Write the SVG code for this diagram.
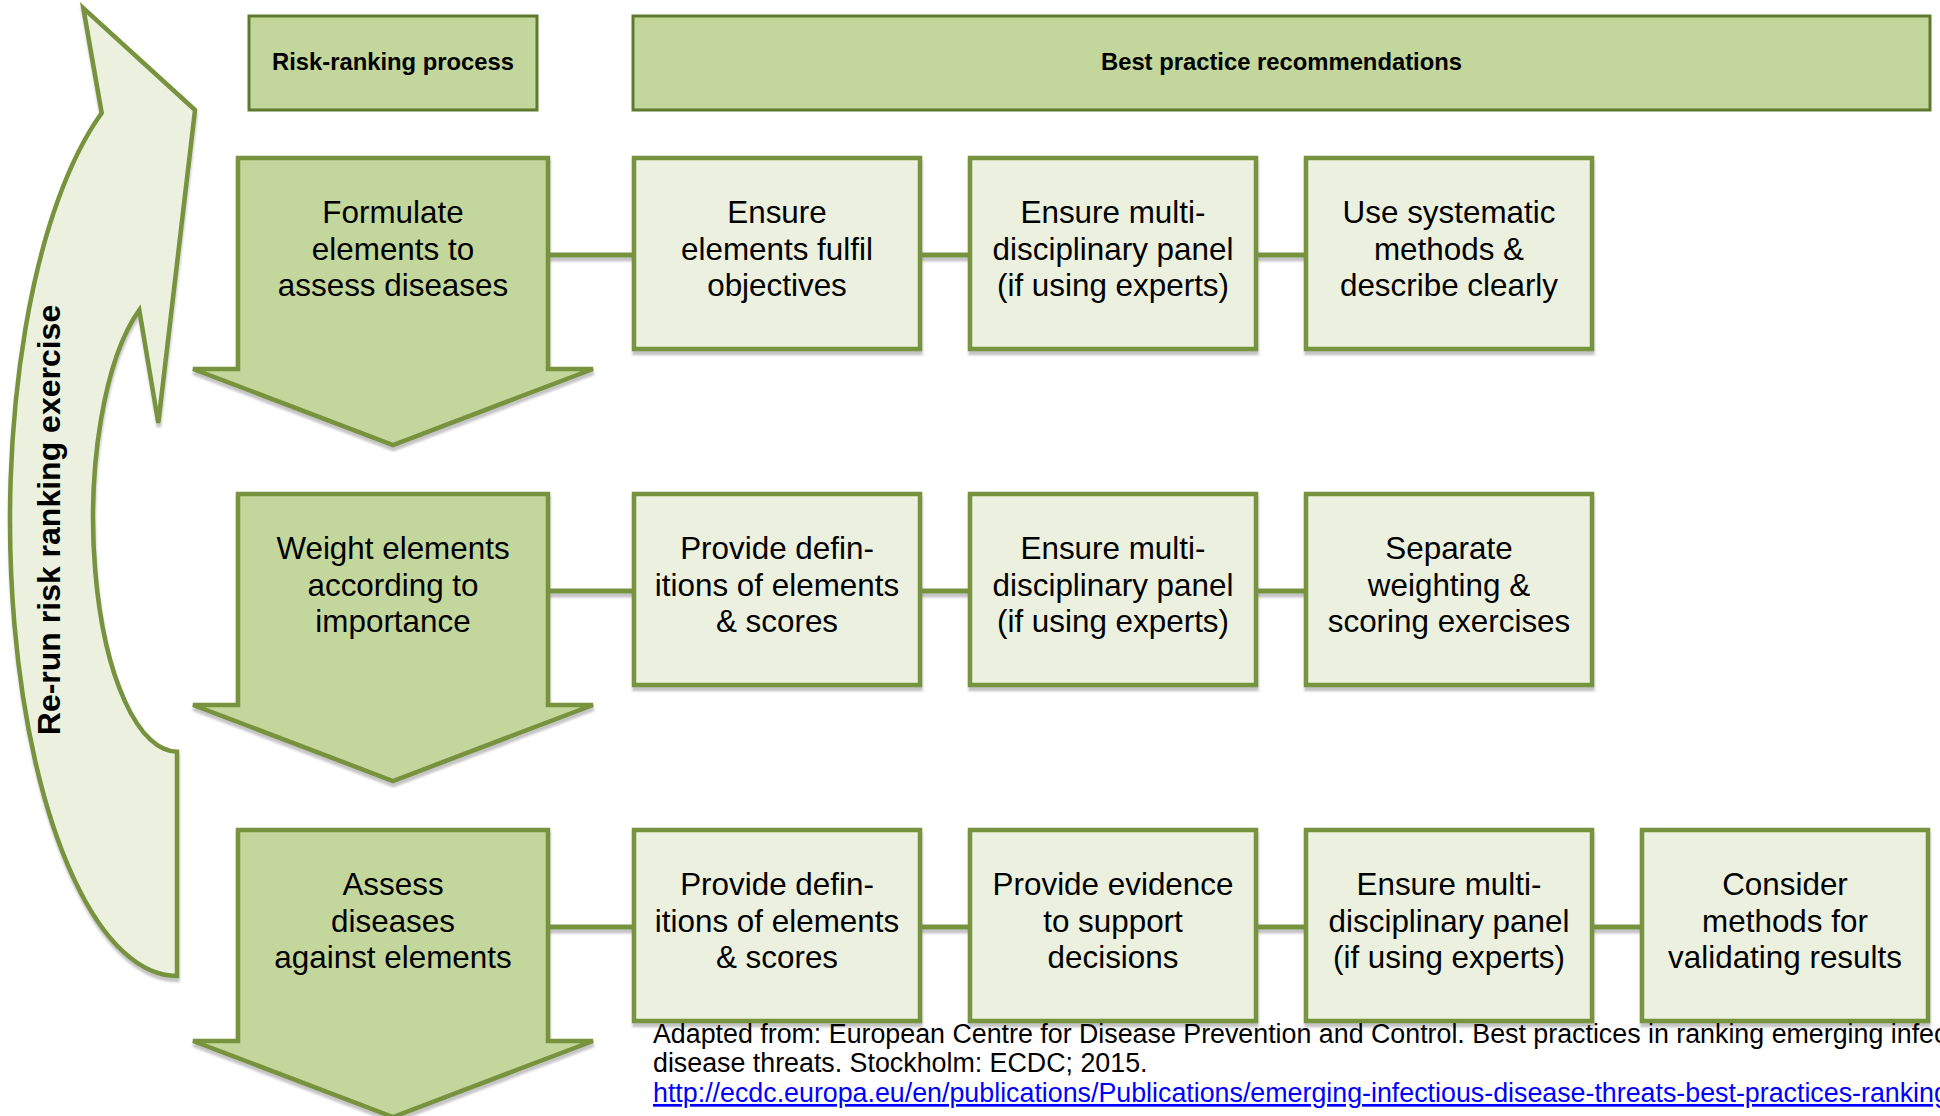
<svg xmlns="http://www.w3.org/2000/svg" xmlns:xlink="http://www.w3.org/1999/xlink" width="1940" height="1116" viewBox="0 0 1940 1116">
  <style>
    .hdr { fill: #C3D69B; stroke: #5E7A2E; stroke-width: 3; }
    .hdr-txt { font-family: "Liberation Sans", Arial, sans-serif; font-weight: bold; font-size: 23.8px; fill: #000; text-anchor: middle; }
    .step { fill: #C3D69B; stroke: #77933C; stroke-width: 4.5; stroke-linejoin: miter; }
    .rec { fill: #EBF1DE; stroke: #77933C; stroke-width: 4.5; }
    .loop { fill: #EBF1DE; stroke: #77933C; stroke-width: 4.5; stroke-linejoin: miter; }
    .txt { font-family: "Liberation Sans", Arial, sans-serif; font-size: 31.4px; fill: #000; text-anchor: middle; }
    .loop-txt { font-family: "Liberation Sans", Arial, sans-serif; font-weight: bold; font-size: 32px; fill: #000; text-anchor: middle; }
    .link { stroke: #77933C; stroke-width: 4.8; fill: none; }
    .cap { font-family: "Liberation Sans", Arial, sans-serif; font-size: 26.8px; fill: #000; }
    .url { fill: #0000FF; text-decoration: underline; }
  </style>
  <defs>
    <filter id="shadow" x="-10%" y="-10%" width="120%" height="130%">
      <feDropShadow dx="0.5" dy="4" stdDeviation="1" flood-color="#7f7f7f" flood-opacity="0.45"/>
    </filter>
    <!-- block arrow pointing down, origin at top-left of the shaft -->
    <path id="stepArrow" d="M0,0 H310 V211 H355 L155,287 L-45,211 H0 Z"/>
  </defs>

  <rect width="1940" height="1116" fill="#FFFFFF"/>

  <!-- curved loop-back arrow -->
  <g id="rerun">
    <path class="loop" filter="url(#shadow)"
          d="M101.7,113 L83.3,8 L195,110 L158.3,423 L139.3,310
             A84,233.3 0 0 0 177,751.7
             L177,976
             A167,456 0 0 1 101.7,113 Z"/>
    <text class="loop-txt" transform="translate(60,520) rotate(-90)">Re-run risk ranking exercise</text>
  </g>

  <!-- column headers -->
  <g id="hdr-process">
    <rect class="hdr" x="249" y="16" width="288" height="94"/>
    <text class="hdr-txt" x="393" y="70">Risk-ranking process</text>
  </g>
  <g id="hdr-best">
    <rect class="hdr" x="633" y="16" width="1297" height="94"/>
    <text class="hdr-txt" x="1281.5" y="70">Best practice recommendations</text>
  </g>

  <!-- connectors -->
  <g id="connectors" filter="url(#shadow)">
    <path class="link" d="M548,255 H634 M920,255 H970 M1256,255 H1306"/>
    <path class="link" d="M548,591 H634 M920,591 H970 M1256,591 H1306"/>
    <path class="link" d="M548,927 H634 M920,927 H970 M1256,927 H1306 M1592,927 H1642"/>
  </g>

  <!-- process steps -->
  <g id="step1">
    <use xlink:href="#stepArrow" class="step" filter="url(#shadow)" transform="translate(238,158)"/>
    <text class="txt" x="393" y="223">Formulate</text>
    <text class="txt" x="393" y="259.5">elements to</text>
    <text class="txt" x="393" y="296">assess diseases</text>
  </g>
  <g id="step2">
    <use xlink:href="#stepArrow" class="step" filter="url(#shadow)" transform="translate(238,494)"/>
    <text class="txt" x="393" y="559">Weight elements</text>
    <text class="txt" x="393" y="595.5">according to</text>
    <text class="txt" x="393" y="632">importance</text>
  </g>
  <g id="step3">
    <use xlink:href="#stepArrow" class="step" filter="url(#shadow)" transform="translate(238,830)"/>
    <text class="txt" x="393" y="895">Assess</text>
    <text class="txt" x="393" y="931.5">diseases</text>
    <text class="txt" x="393" y="968">against elements</text>
  </g>

  <!-- row 1 recommendations -->
  <g id="r1-objectives">
    <rect class="rec" filter="url(#shadow)" x="634" y="158" width="286" height="191"/>
    <text class="txt" x="777" y="223">Ensure</text>
    <text class="txt" x="777" y="259.5">elements fulfil</text>
    <text class="txt" x="777" y="296">objectives</text>
  </g>
  <g id="r1-panel">
    <rect class="rec" filter="url(#shadow)" x="970" y="158" width="286" height="191"/>
    <text class="txt" x="1113" y="223">Ensure multi-</text>
    <text class="txt" x="1113" y="259.5">disciplinary panel</text>
    <text class="txt" x="1113" y="296">(if using experts)</text>
  </g>
  <g id="r1-methods">
    <rect class="rec" filter="url(#shadow)" x="1306" y="158" width="286" height="191"/>
    <text class="txt" x="1449" y="223">Use systematic</text>
    <text class="txt" x="1449" y="259.5">methods &amp;</text>
    <text class="txt" x="1449" y="296">describe clearly</text>
  </g>

  <!-- row 2 recommendations -->
  <g id="r2-definitions">
    <rect class="rec" filter="url(#shadow)" x="634" y="494" width="286" height="191"/>
    <text class="txt" x="777" y="559">Provide defin-</text>
    <text class="txt" x="777" y="595.5">itions of elements</text>
    <text class="txt" x="777" y="632">&amp; scores</text>
  </g>
  <g id="r2-panel">
    <rect class="rec" filter="url(#shadow)" x="970" y="494" width="286" height="191"/>
    <text class="txt" x="1113" y="559">Ensure multi-</text>
    <text class="txt" x="1113" y="595.5">disciplinary panel</text>
    <text class="txt" x="1113" y="632">(if using experts)</text>
  </g>
  <g id="r2-separate">
    <rect class="rec" filter="url(#shadow)" x="1306" y="494" width="286" height="191"/>
    <text class="txt" x="1449" y="559">Separate</text>
    <text class="txt" x="1449" y="595.5">weighting &amp;</text>
    <text class="txt" x="1449" y="632">scoring exercises</text>
  </g>

  <!-- row 3 recommendations -->
  <g id="r3-definitions">
    <rect class="rec" filter="url(#shadow)" x="634" y="830" width="286" height="191"/>
    <text class="txt" x="777" y="895">Provide defin-</text>
    <text class="txt" x="777" y="931.5">itions of elements</text>
    <text class="txt" x="777" y="968">&amp; scores</text>
  </g>
  <g id="r3-evidence">
    <rect class="rec" filter="url(#shadow)" x="970" y="830" width="286" height="191"/>
    <text class="txt" x="1113" y="895">Provide evidence</text>
    <text class="txt" x="1113" y="931.5">to support</text>
    <text class="txt" x="1113" y="968">decisions</text>
  </g>
  <g id="r3-panel">
    <rect class="rec" filter="url(#shadow)" x="1306" y="830" width="286" height="191"/>
    <text class="txt" x="1449" y="895">Ensure multi-</text>
    <text class="txt" x="1449" y="931.5">disciplinary panel</text>
    <text class="txt" x="1449" y="968">(if using experts)</text>
  </g>
  <g id="r3-validate">
    <rect class="rec" filter="url(#shadow)" x="1642" y="830" width="286" height="191"/>
    <text class="txt" x="1785" y="895">Consider</text>
    <text class="txt" x="1785" y="931.5">methods for</text>
    <text class="txt" x="1785" y="968">validating results</text>
  </g>

  <!-- source note -->
  <g id="source">
    <text class="cap" x="653" y="1043">Adapted from: European Centre for Disease Prevention and Control. Best practices in ranking emerging infec</text>
    <text class="cap" x="653" y="1072">disease threats. Stockholm: ECDC; 2015.</text>
    <text class="cap url" x="653" y="1102">http://ecdc.europa.eu/en/publications/Publications/emerging-infectious-disease-threats-best-practices-ranking</text>
  </g>
</svg>
